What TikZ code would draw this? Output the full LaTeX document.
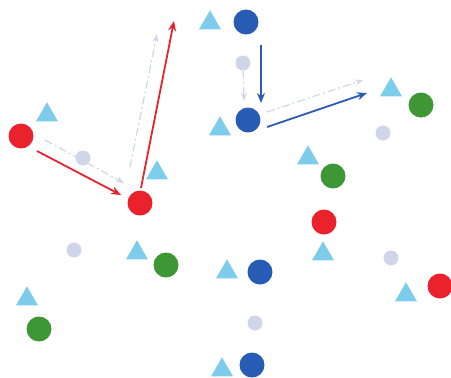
\documentclass[tikz,border=0pt]{standalone}
\usetikzlibrary{arrows.meta,shapes.geometric}
\definecolor{boidred}{RGB}{234,34,44}
\definecolor{boidblue}{RGB}{40,92,180}
\definecolor{boidgreen}{RGB}{62,150,52}
\definecolor{boidsky}{RGB}{126,204,236}
\definecolor{boidghost}{RGB}{208,214,234}
\tikzset{
  ball/.style={circle,inner sep=0pt,minimum size=12.5pt},
  redball/.style={ball,fill=boidred},
  blueball/.style={ball,fill=boidblue},
  greenball/.style={ball,fill=boidgreen},
  ghostdot/.style={circle,inner sep=0pt,minimum size=7.5pt,fill=boidghost},
  obstacle/.style={regular polygon,regular polygon sides=3,inner sep=0pt,minimum size=12.7pt,fill=boidsky},
  move/.style={-{Stealth[length=5pt,width=4pt]},line width=0.9pt},
  ghostmove/.style={-{Stealth[length=4pt,width=3pt]},line width=0.6pt,draw=boidghost,dash pattern=on 4pt off 1.5pt on 1pt off 1.5pt}
}
\begin{document}
\begin{tikzpicture}[x=0.5pt,y=-0.5pt]
  \useasboundingbox (0,0) rectangle (451,377);
  % obstacles
  \foreach \n/\x/\y in {t1/210/23,t2/47/115,t3/157/173,t4/220/129,t5/391/90,t6/308/158,
                        t7/137/253,t8/27/299,t9/227/272,t10/323/254,t11/406/295,t12/222/370}
    \node[obstacle] (\n) at (\x,\y) {};
  % ghost positions
  \foreach \n/\x/\y in {d1/83/158,d2/243/63,d3/383/133,d4/74/250,d5/391/258,d6/255/323}
    \node[ghostdot] (\n) at (\x,\y) {};
  % agents
  \node[redball] (r1) at (21,136) {};
  \node[redball] (r2) at (140,203) {};
  \node[redball] (r3) at (324,222) {};
  \node[redball] (r4) at (440,286) {};
  \node[blueball] (b1) at (246,22) {};
  \node[blueball] (b2) at (248,120) {};
  \node[blueball] (b3) at (260,272) {};
  \node[blueball] (b4) at (252,365) {};
  \node[greenball] (g1) at (421,105) {};
  \node[greenball] (g2) at (333,176) {};
  \node[greenball] (g3) at (166,265) {};
  \node[greenball] (g4) at (39,329) {};
  % velocity vectors
  \coordinate (ra) at (37,151); \coordinate (rb) at (121,195);
  \coordinate (rc) at (141,188); \coordinate (rd) at (174,21);
  \coordinate (ga) at (45,140); \coordinate (gb) at (124,183);
  \coordinate (gc) at (130,167); \coordinate (gd) at (157,34);
  \draw[ghostmove] (ga) -- (gb);
  \draw[ghostmove] (gc) -- (gd);
  \draw[move,boidred] (ra) -- (rb);
  \draw[move,boidred] (rc) -- (rd);
  \coordinate (ba) at (261,45); \coordinate (bb) at (261,103);
  \coordinate (bc) at (267,127); \coordinate (bd) at (367,93);
  \coordinate (hb) at (244,101);
  \coordinate (hc) at (267,112); \coordinate (hd) at (363,80);
  \draw[ghostmove] (d2) -- (hb);
  \draw[ghostmove] (hc) -- (hd);
  \draw[move,boidblue] (ba) -- (bb);
  \draw[move,boidblue] (bc) -- (bd);
\end{tikzpicture}
\end{document}
